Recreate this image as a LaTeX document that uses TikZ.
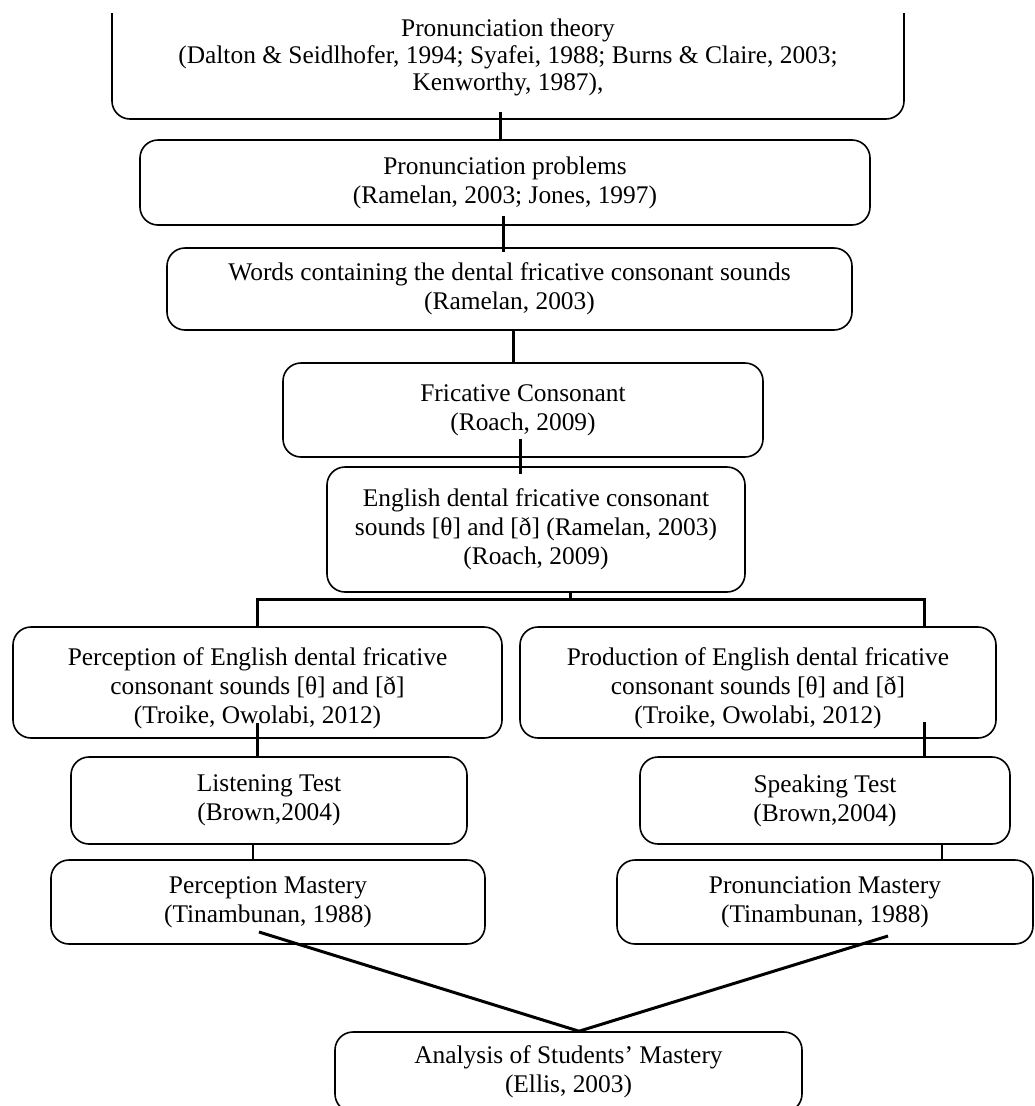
\documentclass[tikz,border=0pt]{standalone}
\usepackage{fontspec}
\setmainfont{Liberation Serif}
\newcommand{\lowered}[2]{\raisebox{-#1}[\height][\depth]{\begin{tabular}{@{}c@{}}#2\end{tabular}}}
\begin{document}
\begin{tikzpicture}[x=1pt,y=-1pt,
  box/.style={draw=black, line width=1.6pt, rounded corners=18pt, align=center,
    inner sep=0pt, font=\fontsize{25.4}{29}\selectfont},
  conn/.style={draw=black, line width=3pt},
  thinconn/.style={draw=black, line width=2.2pt}]
\useasboundingbox (0,0) rectangle (1035,1106);
\begin{scope}
\clip (0,13) rectangle (1035,1106);
\node[box, minimum width=792, minimum height=124, font=\fontsize{25.4}{27}\selectfont] (b1) at (508,57)
  {Pronunciation theory\\(Dalton \& Seidlhofer, 1994; Syafei, 1988; Burns \& Claire, 2003;\\Kenworthy, 1987),};
\node[box, minimum width=730, minimum height=85] (b2) at (505,182.5)
  {Pronunciation problems\\(Ramelan, 2003; Jones, 1997)};
\node[box, minimum width=685, minimum height=82] (b3) at (509.5,289)
  {Words containing the dental fricative consonant sounds\\(Ramelan, 2003)};
\node[box, minimum width=480, minimum height=94] (b4) at (523,410)
  {Fricative Consonant\\(Roach, 2009)};
\node[box, minimum width=418, minimum height=125] (b5) at (536,529.5)
  {English dental fricative consonant\\sounds [θ] and [ð] (Ramelan, 2003)\\(Roach, 2009)};
\node[box, minimum width=489, minimum height=111] (b6l) at (257.5,682.5)
  {\lowered{6pt}{Perception of English dental fricative\\consonant sounds [θ] and [ð]\\(Troike, Owolabi, 2012)}};
\node[box, minimum width=476, minimum height=111] (b6r) at (758,682.5)
  {\lowered{6pt}{Production of English dental fricative\\consonant sounds [θ] and [ð]\\(Troike, Owolabi, 2012)}};
\node[box, minimum width=396, minimum height=87] (b7l) at (269,800.5)
  {Listening Test\\(Brown,2004)};
\node[box, minimum width=370, minimum height=87] (b7r) at (825,800.5)
  {Speaking Test\\(Brown,2004)};
\node[box, minimum width=434, minimum height=84] (b8l) at (268,902)
  {Perception Mastery\\(Tinambunan, 1988)};
\node[box, minimum width=416, minimum height=84] (b8r) at (825,902)
  {Pronunciation Mastery\\(Tinambunan, 1988)};
\node[box, minimum width=467, minimum height=80] (b9) at (568.5,1072)
  {Analysis of Students’ Mastery\\(Ellis, 2003)};

% x positions of the connectors
\coordinate (x1) at (500,0);
\coordinate (x2) at (503,0);
\coordinate (x3) at (513,0);
\coordinate (x4) at (520,0);
\coordinate (x5) at (570,0);
\coordinate (xl) at (257,0);
\coordinate (xr) at (924,0);
\coordinate (xl2) at (253,0);
\coordinate (xr2) at (942,0);
\coordinate (jn) at (570,599);
\coordinate (jl) at (257,599);
\coordinate (jr) at (924,599);
\coordinate (d8l) at (259,932);
\coordinate (d8r) at (888,936);
\coordinate (x9) at (579,0);

\draw[conn, shorten <=-8pt] (b1.south -| x1) -- (b2.north -| x1);
\draw[conn, shorten <=-10pt, shorten >=-5pt] (b2.south -| x2) -- (b3.north -| x2);
\draw[conn] (b3.south -| x3) -- (b4.north -| x3);
\draw[conn, shorten <=-19pt, shorten >=-8pt] (b4.south -| x4) -- (b5.north -| x4);
\draw[conn] (b5.south -| x5) -- (jn);
\draw[conn] (b6l.north -| xl) -- (jl) -- (jr) -- (b6r.north -| xr);
\draw[conn, shorten <=-16pt] (b6l.south -| xl) -- (b7l.north -| xl);
\draw[conn, shorten <=-17pt] (b6r.south -| xr) -- (b7r.north -| xr);
\draw[thinconn] (b7l.south -| xl2) -- (b8l.north -| xl2);
\draw[thinconn] (b7r.south -| xr2) -- (b8r.north -| xr2);
\draw[conn] (d8l) -- (b9.north -| x9) -- (d8r);
\end{scope}
\end{tikzpicture}
\end{document}
